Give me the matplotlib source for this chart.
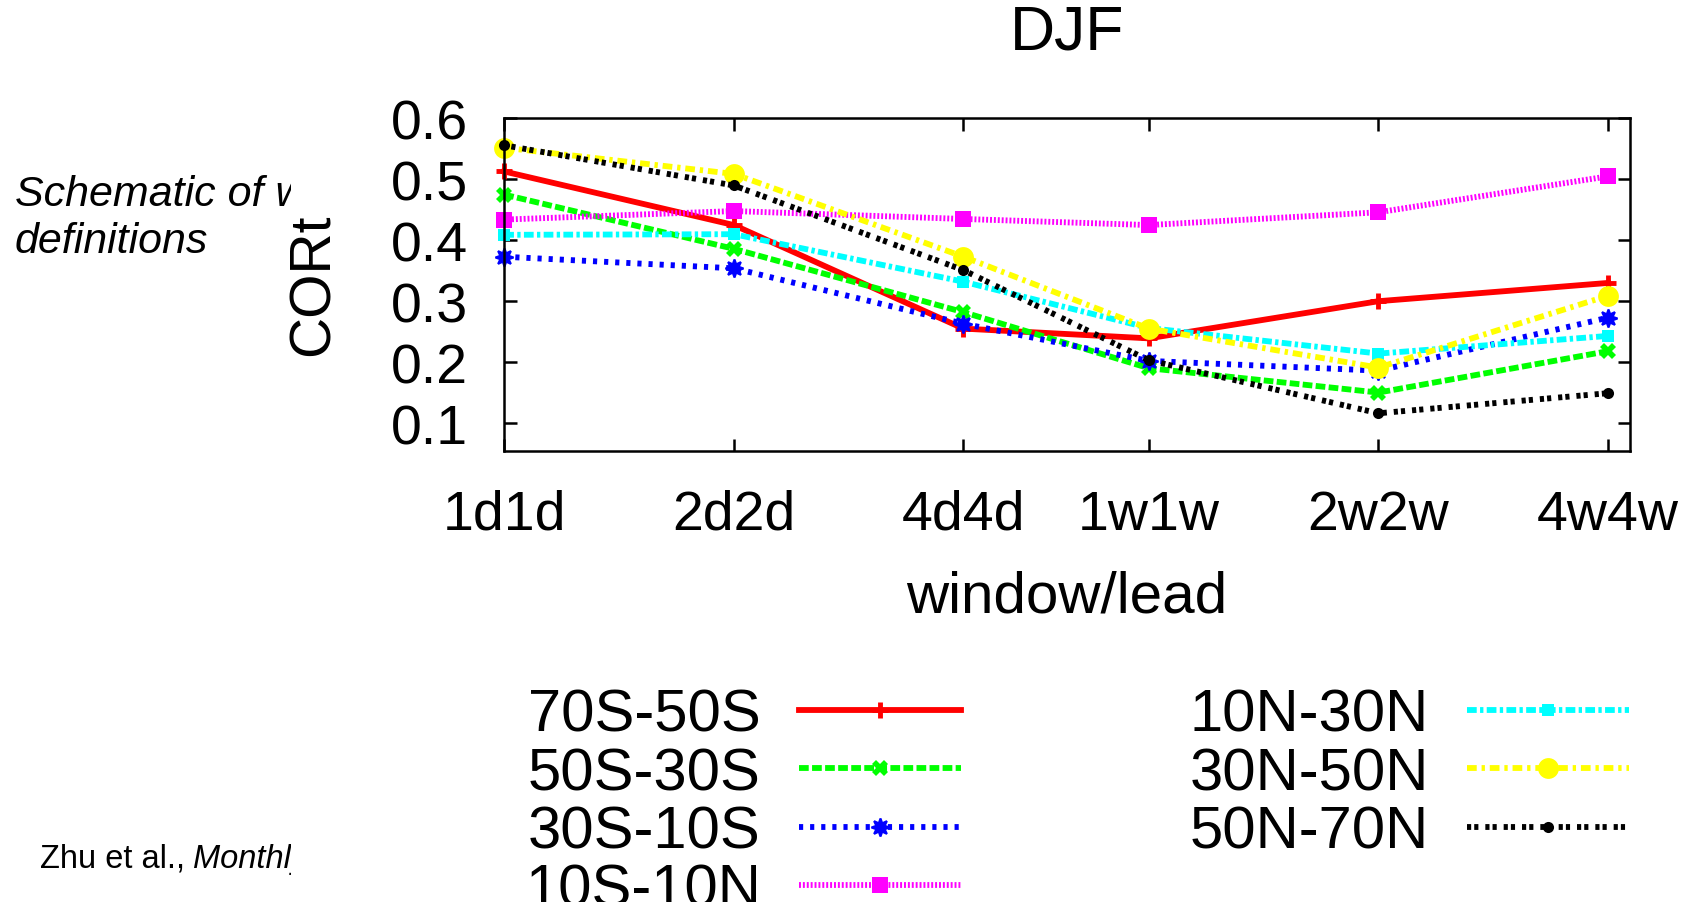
import matplotlib
matplotlib.use("Agg")
import matplotlib.pyplot as plt
from matplotlib.ticker import FixedLocator, NullLocator
from matplotlib.transforms import Bbox, TransformedBbox

plt.rcParams['font.family'] = ['Liberation Sans', 'DejaVu Sans']
plt.rcParams['lines.scale_dashes'] = False

# window/lead combinations; x is the window length in days on a log2 axis
leads = ['1d1d', '2d2d', '4d4d', '1w1w', '2w2w', '4w4w']
lead_days = [1, 2, 4, 7, 14, 28]

bands = ['70S-50S', '50S-30S', '30S-10S', '10S-10N',
         '10N-30N', '30N-50N', '50N-70N']

# CORt for each latitude band, DJF
cort_70s_50s = [0.513, 0.425, 0.255, 0.239, 0.300, 0.330]
cort_50s_30s = [0.475, 0.386, 0.282, 0.190, 0.150, 0.218]
cort_30s_10s = [0.373, 0.354, 0.263, 0.202, 0.186, 0.273]
cort_10s_10n = [0.434, 0.448, 0.435, 0.425, 0.446, 0.505]
cort_10n_30n = [0.409, 0.410, 0.332, 0.256, 0.214, 0.243]
cort_30n_50n = [0.552, 0.509, 0.373, 0.255, 0.191, 0.309]
cort_50n_70n = [0.556, 0.490, 0.351, 0.203, 0.116, 0.149]
series = [cort_70s_50s, cort_50s_30s, cort_30s_10s, cort_10s_10n,
          cort_10n_30n, cort_30n_50n, cort_50n_70n]

# gnuplot-like line types: colour, dash pattern (points), marker, marker size
styles = [
    dict(color='#ff0000', ls='-', marker='+', ms=11, mew=3.5),
    dict(color='#00ff00', ls=(0, (7, 2.4)), marker='X', ms=12, mew=0),
    dict(color='#0000ff', ls=(0, (3, 5)), marker=(8, 1, 0), ms=13, mew=1.5),
    dict(color='#ff00ff', ls=(0, (1.4, 1.4)), marker='s', ms=12, mew=0),
    dict(color='#00ffff', ls=(0, (7, 2.4, 2.4, 2.4)), marker='s', ms=9, mew=0),
    dict(color='#ffff00', ls=(0, (7, 3.5, 2.4, 3.5)), marker='o', ms=15, mew=0),
    dict(color='#000000', ls=(0, (3, 2.2, 3, 5)), marker='o', ms=8, mew=0),
]

fig = plt.figure(figsize=(17.04, 9.03), dpi=100)
ax = fig.add_axes([0.2959, 0.4994, 0.6607, 0.3683])

lines = []
for name, vals, st in zip(bands, series, styles):
    ln, = ax.plot(lead_days, vals, color=st['color'], ls=st['ls'], lw=4.2,
                  marker=st['marker'], ms=st['ms'], mew=st['mew'],
                  mec=st['color'], mfc=st['color'], label=name,
                  clip_on=False)
    lines.append(ln)

ax.set_xscale('log', base=2)
ax.set_xlim(1, 2 ** 4.903)
ax.set_ylim(0.054, 0.6)
ax.xaxis.set_major_locator(FixedLocator(lead_days))
ax.xaxis.set_minor_locator(NullLocator())
ax.set_xticklabels(leads)
ax.set_yticks([0.1, 0.2, 0.3, 0.4, 0.5, 0.6])
ax.set_yticklabels(['0.1', '0.2', '0.3', '0.4', '0.5', '0.6'])
ax.tick_params(direction='in', length=9, width=1.8, labelsize=40,
               top=True, right=True)
ax.tick_params(axis='y', pad=26)
ax.tick_params(axis='x', pad=27)
for sp in ax.spines.values():
    sp.set_linewidth(1.8)

ax.set_ylabel('CORt', fontsize=41)
ax.yaxis.label.set_va('center')
ax.yaxis.set_label_coords(-0.169, 0.503)
ax.set_xlabel('window/lead', fontsize=42)
ax.xaxis.label.set_va('center')
ax.xaxis.set_label_coords(0.5, -0.438)

fig.text(0.6262, 0.9639, 'DJF', fontsize=45, ha='center', va='center')

fig.legend(handles=lines, ncol=2, markerfirst=False, frameon=False,
           fontsize=43, handlelength=2.71, handletextpad=0.64,
           columnspacing=3.83, labelspacing=0.055, borderpad=0,
           borderaxespad=0, loc='upper left',
           bbox_to_anchor=(525 / 1704, 1 - 689 / 903))

# side notes, partly hidden behind the chart panel
clip = TransformedBbox(Bbox([[0, 0], [291 / 1704, 1]]), fig.transFigure)
notes = [
    fig.text(15 / 1704, 1 - 206 / 903, 'Schematic of window/lead',
             fontsize=31, style='italic', va='baseline'),
    fig.text(15 / 1704, 1 - 253 / 903, 'definitions',
             fontsize=31, style='italic', va='baseline'),
    fig.text(40 / 1704, 1 - 868 / 903, 'Zhu et al.,',
             fontsize=23.5, va='baseline'),
    fig.text(193 / 1704, 1 - 868 / 903, 'Monthly Weather Review',
             fontsize=23.5, style='italic', va='baseline'),
]
for t in notes:
    t.set_clip_box(clip)
    t.set_clip_on(True)

fig.savefig('out.png', dpi=100)
